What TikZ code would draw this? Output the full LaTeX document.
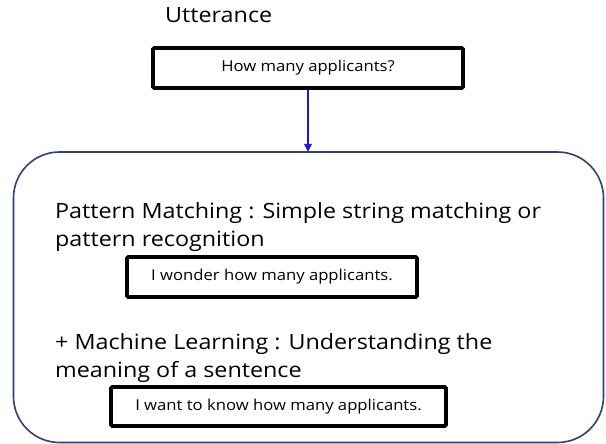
\documentclass[tikz,border=0pt]{standalone}
\usepackage{fontspec}
\setmainfont{Open Sans}
\usetikzlibrary{arrows.meta}
\definecolor{frameblue}{HTML}{2F3F78}
\definecolor{arrowblue}{HTML}{1A1AE6}
% slightly widened lettering
\newcommand{\widetext}[1]{\scalebox{1.11}[1]{#1}}
\tikzset{
  samplebox/.style={draw=black, line width=3.8pt, rounded corners=1.2pt, fill=white,
    inner sep=0pt, font=\fontsize{15}{17}\selectfont},
  heading/.style={anchor=base west, inner sep=0pt, font=\fontsize{21}{25}\selectfont},
}
\begin{document}
\begin{tikzpicture}[x=1pt, y=-1pt]
  \useasboundingbox (0,0) rectangle (606,444);
  \fill[white] (0,0) rectangle (606,444);

  % input utterance
  \node[heading] (utt) at (165,23) {\widetext{Utterance}};
  \node[samplebox, minimum width=310pt, minimum height=40pt] (q) at (308,68) {\widetext{How many applicants?}};

  % processing frame
  \draw[frameblue, line width=1.6pt, rounded corners=46pt] (13.5,152) rectangle (603.5,442.5);
  \coordinate (top) at (308,152);
  \draw[arrowblue, line width=1.4pt, -{Triangle[length=8pt,width=7.5pt]}] (q.south) -- (top);

  % pattern matching
  \node[heading] (pm1) at (55,218.5) {\widetext{Pattern Matching : Simple string matching or}};
  \node[heading] (pm2) at (55,246.5) {\widetext{pattern recognition}};
  \node[samplebox, minimum width=290pt, minimum height=40pt] (ex1) at (272,277) {\widetext{I wonder how many applicants.}};

  % machine learning
  \node[heading] (ml1) at (55,349) {\widetext{+ Machine Learning : Understanding the}};
  \node[heading] (ml2) at (55,377.5) {\widetext{meaning of a sentence}};
  \node[samplebox, minimum width=335pt, minimum height=39pt] (ex2) at (278.5,406.5) {\widetext{I want to know how many applicants.}};
\end{tikzpicture}
\end{document}
